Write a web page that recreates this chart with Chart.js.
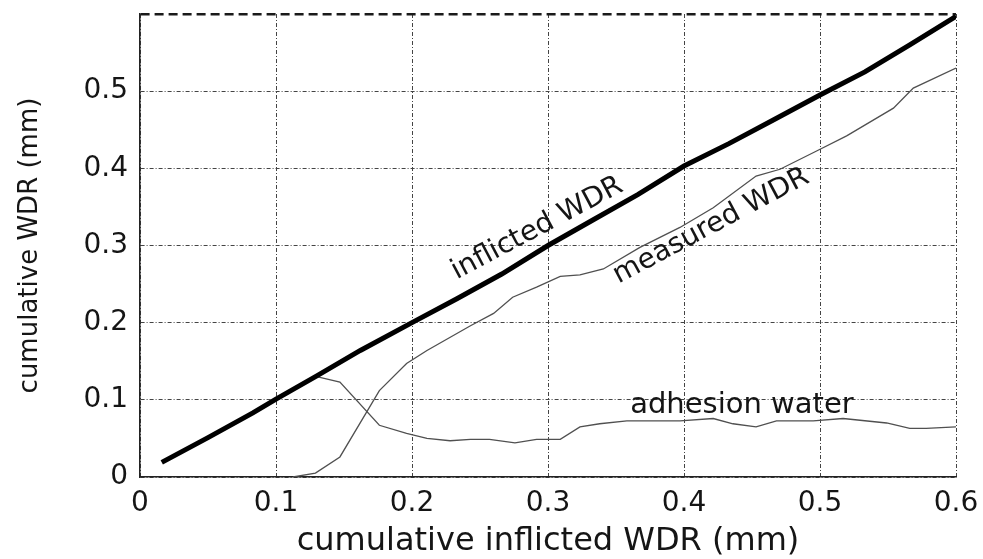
<!DOCTYPE html>
<html><head><meta charset="utf-8">
<script src="https://cdn.jsdelivr.net/npm/chart.js@4/dist/chart.umd.min.js"></script>
<style>html,body{margin:0;padding:0;background:#fff;}#wrap{width:983px;height:559px;}</style>
</head><body><div id="wrap"><canvas id="c" width="983" height="559"></canvas></div>
<script>
// ---- data ----
const xTickValues = [0, 0.1, 0.2, 0.3, 0.4, 0.5, 0.6];
const xTickLabels = ['0', '0.1', '0.2', '0.3', '0.4', '0.5', '0.6'];
const yTickValues = [0, 0.1, 0.2, 0.3, 0.4, 0.5, 0.6];
const yTickLabels = ['0', '0.1', '0.2', '0.3', '0.4', '0.5', ''];

const inflictedX = [0.016, 0.05, 0.083, 0.1, 0.13, 0.162, 0.2, 0.233, 0.266, 0.3, 0.333, 0.366, 0.4, 0.433, 0.466, 0.5, 0.533, 0.566, 0.6];
const inflictedY = [0.019, 0.051, 0.083, 0.101, 0.131, 0.164, 0.2, 0.231, 0.263, 0.3, 0.333, 0.366, 0.403, 0.432, 0.463, 0.495, 0.525, 0.56, 0.597];

const measuredX = [0.1125, 0.129, 0.147, 0.176, 0.196, 0.211, 0.243, 0.26, 0.274, 0.2916, 0.309, 0.3235, 0.3407, 0.3676, 0.397, 0.4215, 0.453, 0.4706, 0.4975, 0.5196, 0.554, 0.5686, 0.6];
const measuredY = [0.0, 0.005, 0.026, 0.112, 0.147, 0.164, 0.196, 0.212, 0.233, 0.246, 0.26, 0.262, 0.2696, 0.2975, 0.3234, 0.349, 0.39, 0.3988, 0.4225, 0.442, 0.478, 0.504, 0.53];

const adhesionX = [0.113, 0.13, 0.147, 0.176, 0.196, 0.211, 0.228, 0.243, 0.257, 0.2757, 0.2916, 0.309, 0.3235, 0.338, 0.358, 0.397, 0.4215, 0.436, 0.453, 0.468, 0.495, 0.517, 0.549, 0.566, 0.578, 0.6];
const adhesionY = [0.114, 0.13, 0.123, 0.067, 0.0565, 0.05, 0.047, 0.0487, 0.0487, 0.0443, 0.0487, 0.0487, 0.065, 0.069, 0.0727, 0.0727, 0.0758, 0.069, 0.065, 0.0727, 0.0727, 0.0758, 0.07, 0.063, 0.063, 0.065];

const annotationTexts = ['inflicted WDR', 'measured WDR', 'adhesion water'];
const annotationX = [0.292, 0.42, 0.4426];
const annotationY = [0.322, 0.325, 0.093];
const annotationAngle = [-28, -28, 0];

// ---- build ----
const zip = (xs, ys) => xs.map((x, i) => ({x: x, y: ys[i]}));
const FONT = 'DejaVu Sans';
const TEXT = '#151515';

const annotationPlugin = {
  id: 'curveLabels',
  afterDatasetsDraw(chart) {
    const ctx = chart.ctx, xs = chart.scales.x, ys = chart.scales.y;
    ctx.save();
    ctx.fillStyle = TEXT;
    ctx.textAlign = 'center';
    ctx.textBaseline = 'middle';
    annotationTexts.forEach((t, i) => {
      const px = xs.getPixelForValue(annotationX[i]);
      const py = ys.getPixelForValue(annotationY[i]);
      ctx.save();
      ctx.translate(px, py);
      ctx.rotate(annotationAngle[i] * Math.PI / 180);
      ctx.font = (i === 2 ? '29px "' : '28px "') + FONT + '"';
      ctx.fillText(t, 0, 0);
      ctx.restore();
    });
    ctx.restore();
  }
};

const bgPlugin = {
  id: 'bg',
  beforeDraw(chart) {
    const c = chart.ctx; c.save(); c.fillStyle = '#fff'; c.fillRect(0, 0, chart.width, chart.height); c.restore();
  }
};

const isTop = (ctx) => ctx.tick && Math.abs(ctx.tick.value - 0.6) < 1e-6;
const noPad = s => { s.paddingTop = 0; s.paddingBottom = 0; s.paddingLeft = 0; s.paddingRight = 0; };

new Chart(document.getElementById('c'), {
  type: 'line',
  data: {
    datasets: [
      {label: 'inflicted WDR', data: zip(inflictedX, inflictedY), borderColor: '#000', borderWidth: 5, pointRadius: 0, tension: 0, fill: false, borderCapStyle: 'butt'},
      {label: 'measured WDR', data: zip(measuredX, measuredY), borderColor: '#505050', borderWidth: 1.3, pointRadius: 0, tension: 0, fill: false},
      {label: 'adhesion water', data: zip(adhesionX, adhesionY), borderColor: '#505050', borderWidth: 1.3, pointRadius: 0, tension: 0, fill: false}
    ]
  },
  options: {
    responsive: false,
    animation: false,
    events: [],
    layout: {padding: {left: 0, right: 27, top: 14, bottom: 0}},
    plugins: {legend: {display: false}, tooltip: {enabled: false}},
    scales: {
      x: {
        type: 'linear', min: 0, max: 0.6,
        afterBuildTicks: s => { s.ticks = xTickValues.map(v => ({value: v})); },
        afterFit: s => { s.height = 82; noPad(s); },
        ticks: {
          color: TEXT, font: {family: FONT, size: 28}, padding: 10, maxRotation: 0, autoSkip: false,
          callback: (v, i) => xTickLabels[i]
        },
        grid: {color: '#444', lineWidth: 1, drawTicks: false},
        border: {display: true, color: '#222', width: 1.6, dash: [4, 2, 1, 2]},
        title: {display: true, text: 'cumulative inflicted WDR (mm)', color: TEXT, font: {family: FONT, size: 32, lineHeight: 1.1}, padding: {top: 0, bottom: 0}}
      },
      y: {
        type: 'linear', min: 0, max: 0.6,
        afterBuildTicks: s => { s.ticks = yTickValues.map(v => ({value: v})); },
        afterFit: s => { s.width = 140; noPad(s); },
        ticks: {
          color: TEXT, font: {family: FONT, size: 28}, padding: 12, autoSkip: false,
          callback: (v, i) => yTickLabels[i]
        },
        grid: {
          color: ctx => isTop(ctx) ? '#1a1a1a' : '#444',
          lineWidth: ctx => isTop(ctx) ? 2.5 : 1,
          drawTicks: false
        },
        border: {display: true, color: '#222', width: 1.6, dash: ctx => isTop(ctx) ? [9, 5] : [4, 2, 1, 2]},
        title: {display: true, text: 'cumulative WDR (mm)', color: TEXT, font: {family: FONT, size: 26, lineHeight: 1.2}, padding: {top: 15, bottom: 0}}
      }
    }
  },
  plugins: [bgPlugin, annotationPlugin]
});
</script>
</body></html>
